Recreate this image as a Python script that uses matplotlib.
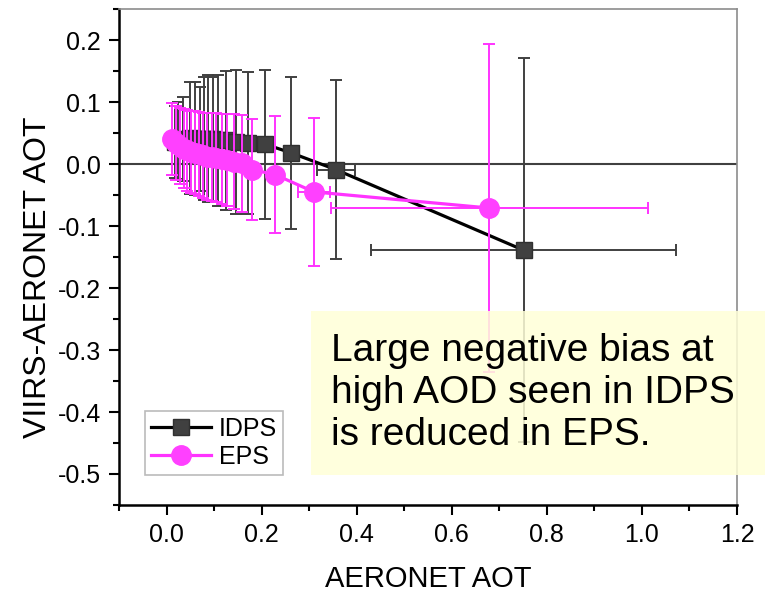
import matplotlib
matplotlib.use("Agg")
import matplotlib.pyplot as plt
from matplotlib.patches import Rectangle
from matplotlib.ticker import MultipleLocator

plt.rcParams['font.family'] = ['Liberation Sans', 'DejaVu Sans']

# IDPS bins (AERONET AOT vs VIIRS-AERONET bias)
idps_x = [0.018, 0.024, 0.035, 0.05, 0.059, 0.07, 0.079, 0.088, 0.098, 0.109,
          0.126, 0.147, 0.172, 0.207, 0.262, 0.356, 0.751]
idps_y = [0.036, 0.038, 0.040, 0.042, 0.041, 0.040, 0.041, 0.041, 0.040, 0.038,
          0.038, 0.036, 0.034, 0.032, 0.018, -0.009, -0.139]
idps_yerr = [0.058, 0.062, 0.068, 0.09, 0.091, 0.084, 0.099, 0.102, 0.1, 0.105,
             0.112, 0.116, 0.115, 0.12, 0.123, 0.145, 0.31]
idps_xerr = [0.002, 0.002, 0.003, 0.003, 0.003, 0.003, 0.003, 0.003, 0.003, 0.004,
             0.005, 0.006, 0.008, 0.01, 0.015, 0.04, 0.32]

# EPS bins
eps_x = [0.012, 0.02, 0.028, 0.036, 0.044, 0.052, 0.06, 0.068, 0.077, 0.086,
         0.095, 0.105, 0.116, 0.128, 0.142, 0.158, 0.18, 0.228, 0.31, 0.679]
eps_y = [0.041, 0.034, 0.029, 0.025, 0.022, 0.020, 0.018, 0.016, 0.014, 0.012,
         0.011, 0.010, 0.008, 0.006, 0.004, 0.001, -0.009, -0.017, -0.045, -0.071]
eps_yerr = [0.058, 0.060, 0.062, 0.064, 0.065, 0.066, 0.067, 0.068, 0.069, 0.07,
            0.071, 0.072, 0.073, 0.074, 0.076, 0.078, 0.082, 0.094, 0.12, 0.264]
eps_xerr = [0.002, 0.002, 0.002, 0.002, 0.002, 0.003, 0.003, 0.003, 0.003, 0.003,
            0.003, 0.004, 0.004, 0.005, 0.005, 0.006, 0.008, 0.012, 0.033, 0.333]

note = "Large negative bias at\nhigh AOD seen in IDPS\nis reduced in EPS."

fig = plt.figure(figsize=(7.65, 5.93), dpi=100)
ax = fig.add_axes([0.1556, 0.1484, 0.8078, 0.8364])

ax.axhline(0, color='#404040', lw=1.5, zorder=1)

ax.errorbar(idps_x, idps_y, yerr=idps_yerr, xerr=idps_xerr, fmt='none',
            ecolor='#404040', elinewidth=1.4, capsize=4, capthick=1.4, zorder=2)
ax.plot(idps_x, idps_y, color='black', lw=2.3, marker='s', ms=12,
        mfc='#404040', mec='#303030', label='IDPS', zorder=3)

ax.errorbar(eps_x, eps_y, yerr=eps_yerr, xerr=eps_xerr, fmt='none',
            ecolor='#ff33ff', elinewidth=1.4, capsize=4, capthick=1.4, zorder=4)
ax.plot(eps_x, eps_y, color='#ff33ff', lw=2.3, marker='o', ms=14,
        mfc='#ff40ff', mec='#ff40ff', label='EPS', zorder=5)

ax.set_xlim(-0.1, 1.2)
ax.set_ylim(-0.55, 0.25)
ax.xaxis.set_major_locator(MultipleLocator(0.2))
ax.xaxis.set_minor_locator(MultipleLocator(0.1))
ax.yaxis.set_major_locator(MultipleLocator(0.1))
ax.yaxis.set_minor_locator(MultipleLocator(0.05))
ax.xaxis.set_major_formatter(plt.FormatStrFormatter('%.1f'))
ax.yaxis.set_major_formatter(plt.FormatStrFormatter('%.1f'))
ax.tick_params(which='both', direction='out', width=1.5, labelsize=18,
               top=False, right=False)
ax.tick_params(which='major', length=7, pad=6)
ax.tick_params(which='minor', length=4)

for s in ['left', 'bottom']:
    ax.spines[s].set_linewidth(1.8)
    ax.spines[s].set_color('black')
for s in ['top', 'right']:
    ax.spines[s].set_linewidth(1.2)
    ax.spines[s].set_color('#8c8c8c')

ax.set_xlabel('AERONET AOT', fontsize=21)
ax.set_ylabel('VIIRS-AERONET AOT', fontsize=23)
ax.xaxis.set_label_coords(0.5, -0.121)
ax.yaxis.set_label_coords(-0.107, 0.46)

leg = ax.legend(loc='lower left', bbox_to_anchor=(0.042, 0.06), fontsize=18,
                handlelength=2.4, handletextpad=0.3, borderpad=0.25,
                labelspacing=0.15, borderaxespad=0, fancybox=False,
                framealpha=1)
leg.get_frame().set_edgecolor('#bbbbbb')
leg.get_frame().set_linewidth(1.2)

# note box overlaid on the plot
fig.patches.append(Rectangle((311 / 765, 1 - 475 / 593), (765 - 311) / 765,
                             164 / 593, transform=fig.transFigure,
                             facecolor='#ffffd8', edgecolor='none', alpha=0.85,
                             zorder=10))
fig.text(331 / 765, 1 - 393 / 593, note, fontsize=28, va='center', ha='left',
         linespacing=1.2, color='black', zorder=11)

fig.savefig('out.png', dpi=100)
